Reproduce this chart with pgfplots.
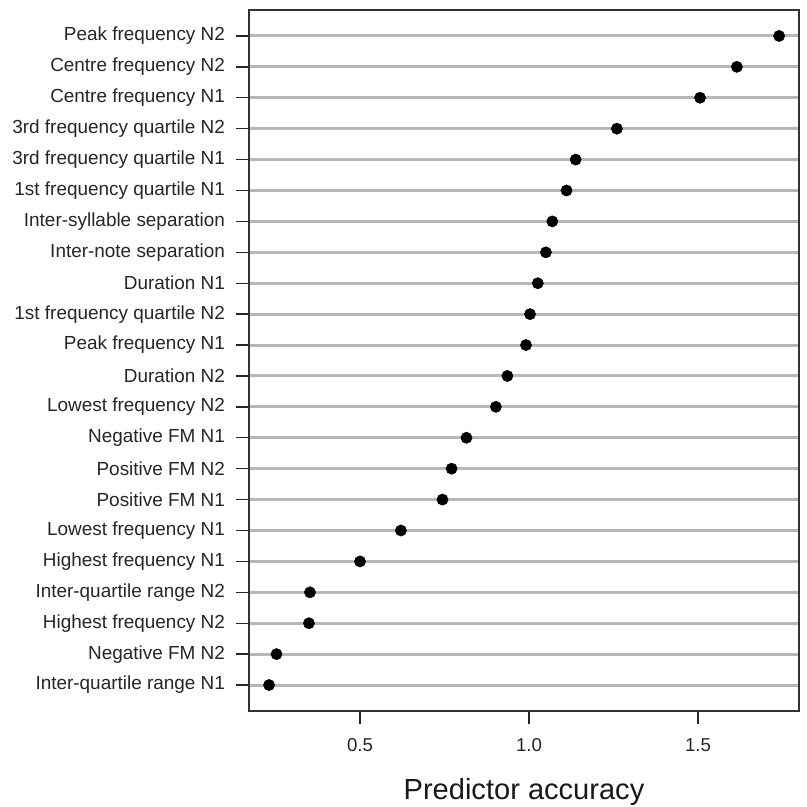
\documentclass[border=0pt]{standalone}
\usepackage{fontspec}
\setmainfont{Liberation Sans}
\usepackage{pgfplots}
\pgfplotsset{compat=1.18}
\begin{document}
\begin{tikzpicture}
\useasboundingbox[fill=white] (0,0) rectangle (605.25pt,605.25pt);
\begin{axis}[
  at={(186.75pt,72pt)}, anchor=south west,
  scale only axis, width=412.5pt, height=525.75pt,
  xmin=0.1716, xmax=1.7988, ymin=0.16, ymax=22.84,
  xtick={0.5,1.0,1.5},
  xticklabels={0.5,1.0,1.5},
  ytick={1,...,22},
  yticklabels={Inter-quartile range N1,Negative FM N2,Highest frequency N2,Inter-quartile range N2,Highest frequency N1,Lowest frequency N1,Positive FM N1,Positive FM N2,Negative FM N1,Lowest frequency N2,Duration N2,Peak frequency N1,1st frequency quartile N2,Duration N1,Inter-note separation,Inter-syllable separation,1st frequency quartile N1,3rd frequency quartile N1,3rd frequency quartile N2,Centre frequency N1,Centre frequency N2,Peak frequency N2},
  tick align=outside,
  xtick pos=bottom, ytick pos=left,
  major tick length=9.5pt,
  tick style={line width=1pt, black!85},
  axis line style={line width=1.1pt, black!80},
  ymajorgrids, grid style={line width=2.2pt, black!28},
  /pgf/number format/assume math mode=true,
  ticklabel style={font=\fontsize{14}{16}\selectfont, text=black!85},
  xticklabel style={yshift=-7.5pt},
  yticklabel style={font=\fontsize{14.2}{16}\selectfont, xshift=-5pt},
  xlabel={Predictor accuracy},
  xlabel style={at={(axis description cs:0.5,0)}, anchor=base, yshift=-66pt, font=\fontsize{21.8}{24}\selectfont, text=black!90},
]
\addplot[only marks, mark=*, mark size=4.2pt, black] coordinates {
(0.231,1) (0.253,2) (0.349,3) (0.352,4) (0.500,5) (0.621,6) (0.744,7) (0.771,8)
(0.815,9) (0.902,10) (0.936,11) (0.991,12) (1.003,13) (1.026,14) (1.050,15)
(1.069,16) (1.111,17) (1.138,18) (1.260,19) (1.506,20) (1.615,21) (1.740,22)
};
\end{axis}
\end{tikzpicture}
\end{document}
